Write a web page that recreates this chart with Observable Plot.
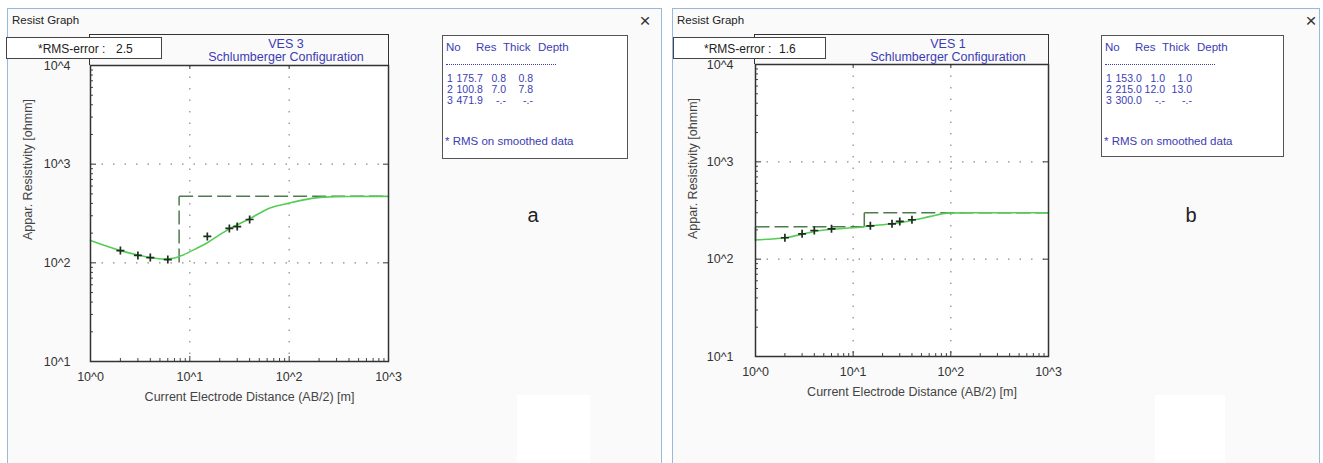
<!DOCTYPE html>
<html>
<head>
<meta charset="utf-8">
<script src="https://cdn.jsdelivr.net/npm/d3@7"></script>
<script src="https://cdn.jsdelivr.net/npm/@observablehq/plot@0.6"></script>
<style>
html, body { margin: 0; padding: 0; background: #ffffff; }
body { width: 1323px; height: 463px; position: relative; overflow: hidden;
       font-family: Arial, "Liberation Sans", sans-serif; }
.abs { position: absolute; white-space: nowrap; line-height: 1; }
.win { position: absolute; top: 8px; height: 470px; box-sizing: border-box;
       border: 1px solid #97bada; background: #fafafa; }
.cap { font-size: 11.5px; color: #222; }
.close { font-size: 19px; color: #333; transform: translate(-50%, -50%); }
.titlebox { box-sizing: border-box; border: 1.5px solid #333; border-bottom: none; }
.blue { color: #3c3cb4; }
.rmsbox { box-sizing: border-box; border: 1.5px solid #444; background: #fff; z-index: 5; }
.tablebox { box-sizing: border-box; border: 1.5px solid #555; background: #fff; }
.letter { font-size: 20px; color: #222; transform: translate(-50%, -50%); }
svg.plot-svg { position: absolute; top: 0; max-width: none; z-index: 2; }
</style>
</head>
<body>
<script>
// ---------- data ----------
const xTickValues = [1, 10, 100, 1000];
const xTickLabels = ["10^0", "10^1", "10^2", "10^3"];
const yTickValues = [10, 100, 1000, 10000];
const yTickLabels = ["10^1", "10^2", "10^3", "10^4"];

const abHalf = [2, 3, 4, 6, 15, 25, 30, 40];

// VES 3 (panel a)
const ves3Observed = [133, 119, 113, 108, 185, 223, 233, 275];
const ves3CurveAB  = [1, 2, 3, 4, 5.5, 7, 8, 12, 15, 20, 26, 40, 65, 100, 150, 220, 400, 1000];
const ves3CurveRho = [168, 133, 120, 113, 109, 112, 117, 142, 160, 193, 226, 280, 361, 403, 440, 463, 471, 472];
const ves3Res   = [175.7, 100.8, 471.9];
const ves3Thick = [0.8, 7.0];
const ves3Depth = [0.8, 7.8];
const ves3Rms = 2.5;

// VES 1 (panel b)
const ves1Observed = [166, 182, 197, 205, 220, 231, 244, 254];
const ves1CurveAB  = [1, 2, 3, 4, 6, 10, 15, 25, 40, 62, 92, 150, 1000];
const ves1CurveRho = [158, 166, 180, 193, 203, 210, 220, 231, 250, 275, 297, 300, 300];
const ves1Res   = [153.0, 215.0, 300.0];
const ves1Thick = [1.0, 12.0];
const ves1Depth = [1.0, 13.0];
const ves1Rms = 1.6;

const xLabel = "Current Electrode Distance (AB/2) [m]";
const yLabel = "Appar. Resistivity [ohmm]";

// ---------- layout ----------
const panels = [
  { name: "VES 3", letter: "a", obs: ves3Observed, cAB: ves3CurveAB, cRho: ves3CurveRho,
    res: ves3Res, thick: ves3Thick, depth: ves3Depth, rms: ves3Rms,
    win: [7, 661], closeX: 645, svgLeft: 0, plotLeft: 90, plotRight: 388, plotTop: 65, plotBottom: 361,
    padY: 20, titleCx: 286, rmsBox: [6, 37, 156, 22], rmsText: 31, rmsVal: 109,
    table: [442, 35, 186, 124], letterPos: [533, 215], white: [517, 395, 73, 70] },
  { name: "VES 1", letter: "b", obs: ves1Observed, cAB: ves1CurveAB, cRho: ves1CurveRho,
    res: ves1Res, thick: ves1Thick, depth: ves1Depth, rms: ves1Rms,
    win: [672, 1319], closeX: 1311, svgLeft: 660, plotLeft: 755, plotRight: 1048, plotTop: 64, plotBottom: 356,
    padY: 22, titleCx: 948, rmsBox: [673, 37, 153, 22], rmsText: 30, rmsVal: 105,
    table: [1101, 35, 183, 122], letterPos: [1191, 215], white: [1155, 395, 70, 70] }
];

const plusSymbol = {
  draw(ctx, size) {
    const r = Math.sqrt(size / Math.PI);
    ctx.moveTo(-r, 0); ctx.lineTo(r, 0);
    ctx.moveTo(0, -r); ctx.lineTo(0, r);
  }
};

function el(cls, css, text, parent = document.body) {
  const d = document.createElement("div");
  d.className = cls;
  Object.assign(d.style, css);
  if (text != null) d.textContent = text;
  parent.append(d);
  return d;
}
const px = v => v + "px";

const minorY = [];
[10, 100, 1000].forEach(b => { for (let k = 2; k <= 9; k++) minorY.push(b * k); });
const minorX = [];
[1, 10, 100].forEach(b => { for (let k = 2; k <= 9; k++) minorX.push(b * k); });

// layered model as step segments; like the original program, a segment is only
// drawn when both of its ends lie inside the x range of the graph
function layerSegments(res, depth, xmin, xmax) {
  const segs = [];
  let top = xmin / 2;
  res.forEach((r, i) => {
    const bottom = i < depth.length ? depth[i] : xmax;
    segs.push({ x1: top, y1: r, x2: bottom, y2: r });
    if (i < depth.length) segs.push({ x1: bottom, y1: r, x2: bottom, y2: res[i + 1] });
    top = bottom;
  });
  return segs.filter(s => s.x1 >= xmin && s.x2 >= xmin && s.x1 <= xmax && s.x2 <= xmax);
}

panels.forEach(p => {
  // window
  el("win", { left: px(p.win[0]), width: px(p.win[1] - p.win[0] + 1) });
  el("abs", { left: px(p.white[0]), top: px(p.white[1]), width: px(p.white[2]), height: px(p.white[3]), background: "#ffffff" });
  el("abs cap", { left: px(p.win[0] + 5), top: px(15) }, "Resist Graph");
  el("abs close", { left: px(p.closeX), top: px(20) }, "×");

  // plot
  const W = 400, H = 420;
  const pw = p.plotRight - p.plotLeft, ph = p.plotBottom - p.plotTop;
  const obs = abHalf.map((x, i) => ({ x, y: p.obs[i] }));
  const curve = p.cAB.map((x, i) => ({ x, y: p.cRho[i] }));
  const segs = layerSegments(p.res, p.depth, xTickValues[0], xTickValues[xTickValues.length - 1]);

  const svg = Plot.plot({
    width: W, height: H,
    marginLeft: p.plotLeft - p.svgLeft,
    marginRight: p.svgLeft + W - p.plotRight,
    marginTop: p.plotTop,
    marginBottom: H - p.plotBottom,
    style: { background: "transparent", fontFamily: "Arial, 'Liberation Sans', sans-serif",
             fontSize: "12.5px", color: "#333", overflow: "visible" },
    x: { type: "log", domain: [1, 1000], ticks: xTickValues,
         tickFormat: d => xTickLabels[xTickValues.indexOf(d)], tickSize: 0, tickPadding: 11, label: null },
    y: { type: "log", domain: [10, 10000], ticks: yTickValues,
         tickFormat: d => yTickLabels[yTickValues.indexOf(d)], tickSize: 0, tickPadding: p.padY, label: null },
    marks: [
      Plot.frame({ fill: "#ffffff", stroke: null }),
      Plot.ruleX([10, 100], { stroke: "#8a8a8a", strokeWidth: 1.2, strokeDasharray: "1.5,10" }),
      Plot.ruleY([100, 1000], { stroke: "#8a8a8a", strokeWidth: 1.2, strokeDasharray: "1.5,10" }),
      Plot.ruleY(minorY, { insetRight: pw - 3, stroke: "#444" }),
      Plot.ruleY(yTickValues, { insetRight: pw - 6, stroke: "#333" }),
      Plot.ruleY(yTickValues, { insetLeft: pw - 5, stroke: "#333" }),
      Plot.ruleX(minorX, { insetTop: ph - 3, stroke: "#444" }),
      Plot.ruleX(xTickValues, { insetTop: ph - 5, stroke: "#333" }),
      Plot.ruleX(xTickValues, { insetBottom: ph - 4, stroke: "#333" }),
      Plot.link(segs, { x1: "x1", y1: "y1", x2: "x2", y2: "y2", stroke: "#4f7a4f", strokeWidth: 1.5, strokeDasharray: "14,5" }),
      Plot.line(curve, { x: "x", y: "y", curve: "monotone-x", stroke: "#55cc55", strokeWidth: 1.6 }),
      Plot.dot(obs, { x: "x", y: "y", symbol: plusSymbol, r: 4, fill: "none", stroke: "#1c2e1c", strokeWidth: 1.7 }),
      Plot.frame({ stroke: "#333", strokeWidth: 1.5 }),
      Plot.text([yLabel], { frameAnchor: "top-left", textAnchor: "middle", dx: -67, dy: 104, rotate: -90, fill: "#444", fontSize: 12.5 }),
      Plot.text([xLabel], { frameAnchor: "bottom", textAnchor: "middle", dx: 10, dy: 39, fill: "#444", fontSize: 12.5 })
    ]
  });
  svg.classList.add("plot-svg");
  svg.style.left = px(p.svgLeft);
  document.body.append(svg);

  // title box
  el("abs titlebox", { left: px(p.plotLeft - 0.75), top: px(34.25), width: px(pw + 1.5), height: px(p.plotTop - 34) });
  const t = el("abs blue", { left: px(p.titleCx), top: px(38), transform: "translateX(-50%)", textAlign: "center",
                              fontSize: "12.5px", lineHeight: "13px", zIndex: 3 });
  el("", {}, p.name, t);
  el("", {}, "Schlumberger Configuration", t);

  // RMS box
  const rb = el("abs rmsbox", { left: px(p.rmsBox[0]), top: px(p.rmsBox[1]), width: px(p.rmsBox[2]), height: px(p.rmsBox[3]) });
  el("abs", { left: px(p.rmsText), top: px(5), fontSize: "12px", color: "#222" }, "*RMS-error :", rb);
  el("abs", { left: px(p.rmsVal), top: px(5), fontSize: "12px", color: "#222" }, p.rms.toFixed(1), rb);

  // table box
  const [L, T, TW, TH] = p.table;
  const tb = el("abs tablebox", { left: px(L), top: px(T), width: px(TW), height: px(TH), zIndex: 3 });
  const fs = { fontSize: "11.5px" };
  const hy = 47 - T - 6;
  [["No", 3], ["Res", 33], ["Thick", 60], ["Depth", 95]].forEach(([s, x]) =>
    el("abs blue", { ...fs, left: px(x), top: px(hy) }, s, tb));
  el("abs", { left: px(3), top: px(63 - T), width: px(110), borderTop: "1px dotted #3c3cb4" }, null, tb);
  p.res.forEach((r, i) => {
    const y = 78 + i * 11 - T - 6;
    const th = i < p.thick.length ? p.thick[i].toFixed(1) : "-.-";
    const dp = i < p.depth.length ? p.depth[i].toFixed(1) : "-.-";
    const rs = { fontSize: "10.5px" };
    el("abs blue", { ...rs, left: px(4), top: px(y) }, String(i + 1), tb);
    el("abs blue", { ...rs, left: px(13.5), top: px(y) }, r.toFixed(1), tb);
    el("abs blue", { ...rs, right: px(TW - 65), top: px(y) }, th, tb);
    el("abs blue", { ...rs, right: px(TW - 92), top: px(y) }, dp, tb);
  });
  el("abs blue", { ...fs, left: px(2), top: px(141 - T - 6) }, "* RMS on smoothed data", tb);

  // letter
  el("abs letter", { left: px(p.letterPos[0]), top: px(p.letterPos[1]) }, p.letter);
});
</script>
</body>
</html>
